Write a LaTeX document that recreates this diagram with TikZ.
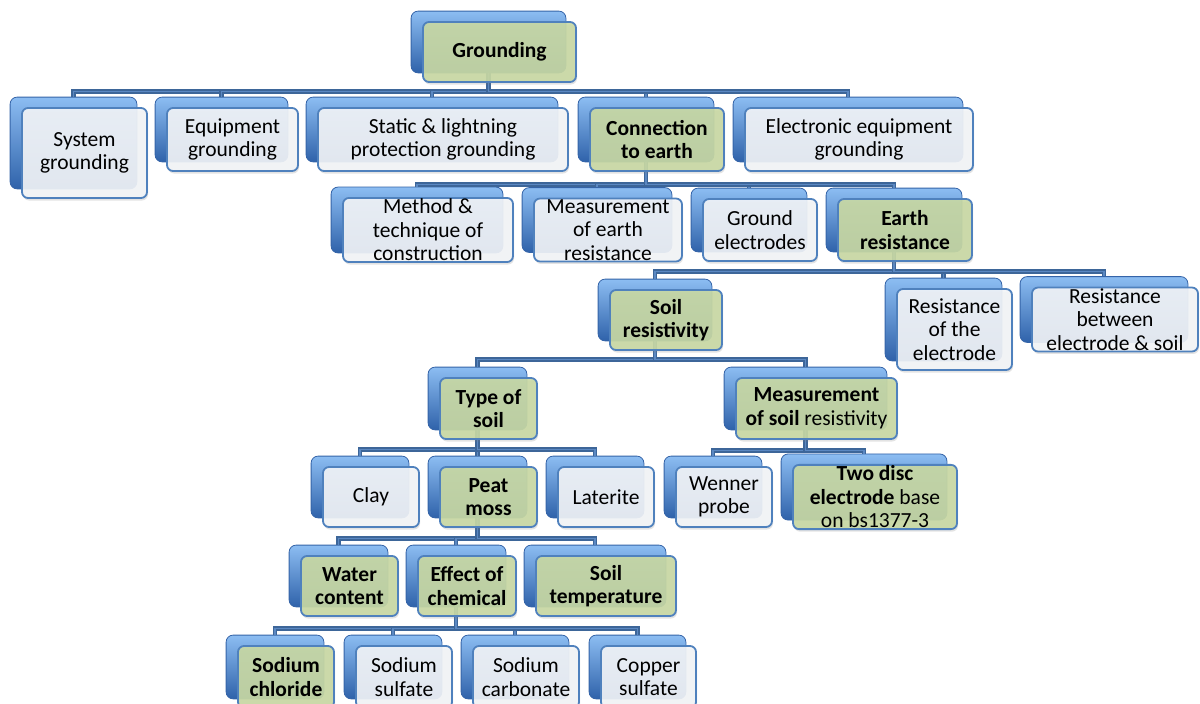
\documentclass[tikz,border=0pt]{standalone}
\usepackage{fontspec}
\setmainfont{Carlito}
\usetikzlibrary{positioning,calc,fit,shadows}
\definecolor{BackTop}{HTML}{8CBDF2}
\definecolor{BackMid}{HTML}{4C87D4}
\definecolor{BackBot}{HTML}{2F62AA}
\definecolor{BackEdge}{HTML}{3564A8}
\definecolor{Frame}{HTML}{4F81BD}
\definecolor{Pale}{HTML}{F3F5F8}
\definecolor{Sage}{HTML}{C9D9A3}
\definecolor{Bus}{HTML}{3D6699}
\definecolor{BusLight}{HTML}{5B88C2}
\pgfdeclarelayer{behind}
\pgfsetlayers{behind,main}
\newcommand{\boxfont}{\fontsize{21.5}{23.5}\selectfont}
\tikzset{item/.style={rectangle,rounded corners=6pt,draw=Frame,line width=1.8pt,fill=Pale,fill opacity=0.9,text opacity=1,align=center,text=black,inner sep=1pt,font=\boxfont,drop shadow={opacity=0.22,shadow xshift=1pt,shadow yshift=-2.5pt}},key/.style={item,fill=Sage,font=\boxfont\bfseries},sz/.style 2 args={minimum width=#1pt,minimum height=#2pt},back/.style={rectangle,rounded corners=7pt,draw=BackEdge,line width=0.8pt,top color=BackTop,middle color=BackMid,bottom color=BackBot,inner sep=0pt},link/.style={draw=Bus,line width=1.6pt,double=BusLight,double distance=1.6pt}}

\begin{document}
\begin{tikzpicture}[x=1pt,y=-1pt]
\useasboundingbox (0,0) rectangle (1200,704);
\node[key,sz={153}{60}] (root) at (499.5,52) {Grounding};
\node[item,sz={125}{90}] (sys) at (84.5,153) {System\\grounding};
\node[item,sz={131}{63}] (equip) at (232.5,139.5) {Equipment\\grounding};
\node[item,sz={250}{63}] (static) at (443,139.5) {Static \& lightning\\protection grounding};
\node[key,sz={134}{63}] (conn) at (657,139.5) {Connection\\to earth};
\node[item,sz={228}{63}] (elec) at (859,139.5) {Electronic equipment\\grounding};
\node[item,sz={170}{62}] (method) at (428,230) {Method \&\\technique of\\construction};
\node[item,sz={148}{62}] (measure) at (608,230) {Measurement\\of earth\\resistance};
\node[item,sz={114}{62}] (electrode) at (760,230) {Ground\\electrodes};
\node[key,sz={134}{62}] (earth) at (905,230) {Earth\\resistance};
\node[key,sz={112}{60}] (soil) at (666,320) {Soil\\resistivity};
\node[item,sz={115}{81}] (relec) at (954.5,329.5) {Resistance\\of the\\electrode};
\node[item,sz={166}{61}] (rsoil) at (1115,319.5) {Resistance\\between\\electrode \& soil};
\node[key,sz={97}{61}] (type) at (488.5,408.5) {Type of\\soil};
\node[key,sz={161}{61}] (msoil) at (816.5,408.5) {Measurement\\of soil \textmd{resistivity}};
\node[item,sz={96}{60}] (clay) at (371,497) {Clay};
\node[key,sz={97}{60}] (peat) at (488.5,497) {Peat\\moss};
\node[item,sz={96}{60}] (laterite) at (606,497) {Laterite};
\node[item,sz={96}{60}] (wenner) at (724,497) {Wenner\\probe};
\node[key,sz={164}{60}] (disc) at (875,497) {Two disc\\electrode \textmd{base}\\\textmd{on bs1377-3}};
\node[key,sz={97}{60}] (water) at (349.5,586) {Water\\content};
\node[key,sz={98}{60}] (chem) at (467,586) {Effect of\\chemical};
\node[key,sz={140}{60}] (temp) at (606,586) {Soil\\temperature};
\node[key,sz={96}{62}] (nacl) at (286,677) {Sodium\\chloride};
\node[item,sz={96}{62}] (naso) at (404,677) {Sodium\\sulfate};
\node[item,sz={106}{62}] (naco) at (526,677) {Sodium\\carbonate};
\node[item,sz={95}{62}] (cuso) at (648.5,677) {Copper\\sulfate};
\begin{pgfonlayer}{behind}
\fill[white] (0,0) rectangle (1200,704);
% blue blocks behind every box
\foreach \n in {root,sys,equip,static,conn,elec,method,measure,electrode,earth,soil,relec,rsoil,type,msoil,clay,peat,laterite,wenner,disc,water,chem,temp,nacl,naso,naco,cuso}
  \node[back,fit={($(\n.north west)+(-11,-10)$) ($(\n.south east)+(-11,-10)$)}] (\n-b) {};
\foreach \c in {sys,equip,static,conn,elec} \draw[link] (root-b.south) -- ++(0,18) -| (\c-b.north);
\foreach \c in {method,measure,electrode,earth} \draw[link] (conn-b.south) -- ++(0,22) -| (\c-b.north);
\foreach \c in {soil,relec,rsoil} \draw[link] (earth-b.south) -- ++(0,19) -| (\c-b.north);
\foreach \c in {type,msoil} \draw[link] (soil-b.south) -- ++(0,18) -| (\c-b.north);
\foreach \c in {clay,peat,laterite} \draw[link] (type-b.south) -- ++(0,19) -| (\c-b.north);
\foreach \c in {wenner,disc} \draw[link] (msoil-b.south) -- ++(0,20) -| (\c-b.north);
\foreach \c in {water,chem,temp} \draw[link] (peat-b.south) -- ++(0,20) -| (\c-b.north);
\foreach \c in {nacl,naso,naco,cuso} \draw[link] (chem-b.south) -- ++(0,21) -| (\c-b.north);
\end{pgfonlayer}
\end{tikzpicture}
\end{document}
